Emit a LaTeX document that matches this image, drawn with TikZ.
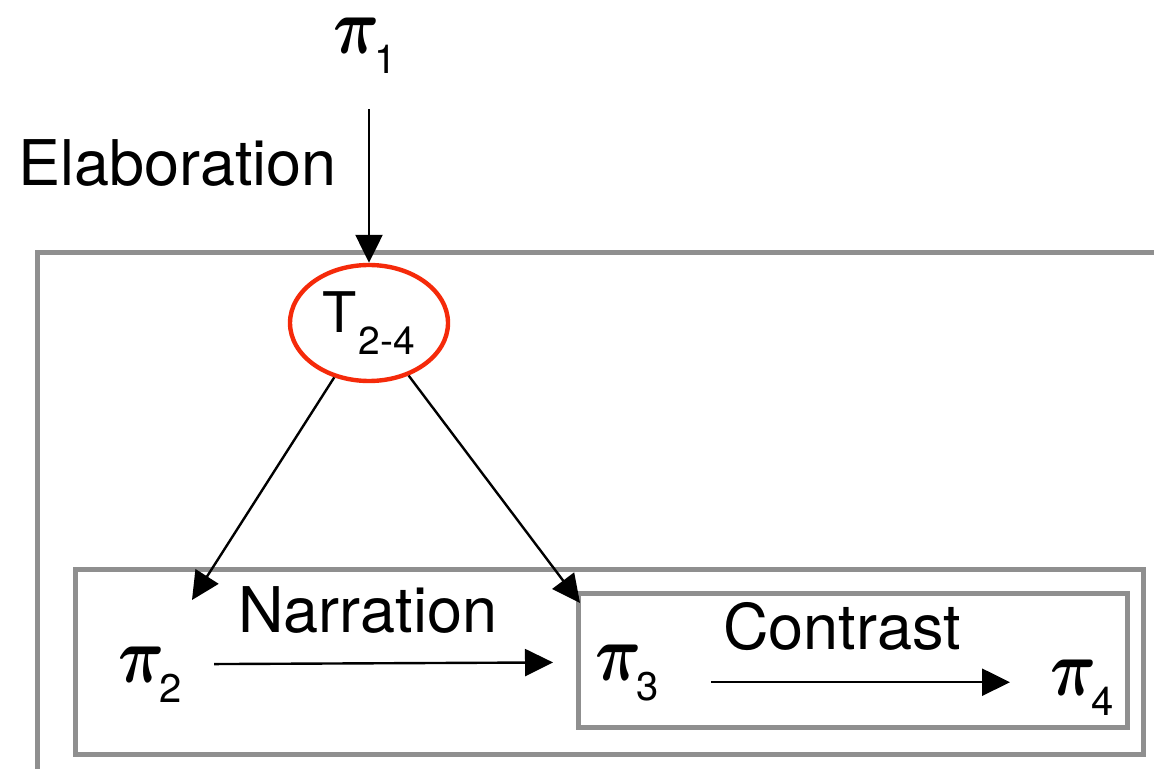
\documentclass[tikz,border=0pt]{standalone}
\usepackage{fontspec}
\setmainfont{TeX Gyre Heros}
\usepackage{bm}
\usetikzlibrary{arrows.meta,shapes.geometric}
\definecolor{boxgray}{RGB}{143,143,143}
\definecolor{ovalred}{RGB}{245,42,10}
\newcommand{\PiSym}[1]{\scalebox{3.2}[4.0]{$\bm{\pi}$}\kern-2.5pt\smash{\raisebox{-10pt}{\fontsize{20}{20}\selectfont #1}}}
\begin{document}
\begin{tikzpicture}[x=0.5pt,y=-0.5pt,
  arr/.style={-{Triangle[length=14pt,width=13.5pt]},line width=1.2pt},
  frame/.style={draw=boxgray,line width=2.5pt},
  lbl/.style={inner sep=0pt,font=\fontsize{31.5}{36}\selectfont},
  pinode/.style={inner sep=0pt,anchor=base west}]
\useasboundingbox (0,0) rectangle (1154,769);
\draw[frame] (37,253) rectangle (1200,820);
\node[frame,minimum width=534pt,minimum height=92.5pt,inner sep=0pt,anchor=north west] (mid) at (73,567) {};
\node[frame,minimum width=274.5pt,minimum height=67pt,inner sep=0pt,anchor=north west] (inner) at (576,591) {};
\node[pinode] (p1) at (333,54) {\PiSym{1}};
\node[pinode] (p2) at (118,682) {\PiSym{2}};
\node[pinode] (p3) at (595,680) {\PiSym{3}};
\node[pinode] (p4) at (1050,695) {\PiSym{4}};
\node[ellipse,draw=ovalred,line width=2.2pt,minimum width=79pt,minimum height=58pt,inner sep=0pt] (t) at (369,323)
  {\raisebox{2pt}{{\fontsize{28}{28}\selectfont T}\kern1pt\raisebox{-11pt}{\fontsize{19.5}{20}\selectfont 2-4}}};
\node[lbl,anchor=base west] (elab) at (18,186) {Elaboration};
\node[lbl,anchor=base] (narr) at (368,632) {Narration};
\node[lbl,anchor=base] (contr) at (842,649) {Contrast};
\coordinate (a2) at (192,600);
\coordinate (a3) at (580,603);
\draw[arr] ([yshift=-27.5pt]p1.south -| t.north) -- (t.north);
\draw[arr] (t) -- (a2);
\draw[arr] (t) -- (a3);
\draw[arr,shorten <=16pt,shorten >=21pt] (p2.east) -- (p3.west);
\draw[arr,shorten <=26pt,shorten >=20pt] ([yshift=-10pt]p3.east) -- ([yshift=-10pt]p3.east -| p4.west);
\end{tikzpicture}
\end{document}
